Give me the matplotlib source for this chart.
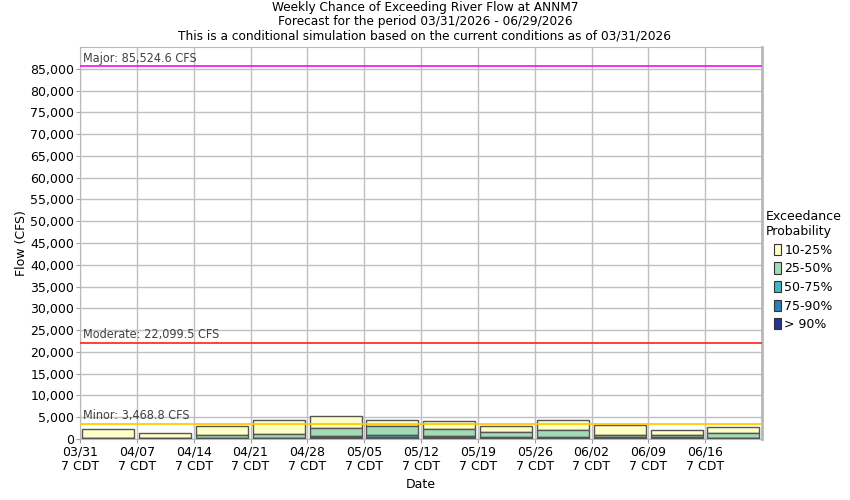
import matplotlib
matplotlib.use('Agg')
import matplotlib.pyplot as plt
from matplotlib.patches import Patch
import matplotlib.dates as mdates
import numpy as np
import pandas as pd

# weekly exceedance values [CFS]
week_start = ['2026-03-31', '2026-04-07', '2026-04-14', '2026-04-21', '2026-04-28', '2026-05-05',
              '2026-05-12', '2026-05-19', '2026-05-26', '2026-06-02', '2026-06-09', '2026-06-16']
q10 = [2290, 1375, 3050, 4350, 5340, 4350, 4120, 2980, 4350, 3280, 2060, 2750]
q25 = [280, 230, 920, 1220, 2520, 2980, 2290, 1600, 2060, 920, 920, 1375]
q50 = [150, 120, 300, 300, 650, 990, 760, 530, 400, 530, 350, 300]
q75 = [80, 60, 180, 200, 400, 460, 460, 300, 250, 300, 200, 150]
q90 = [40, 30, 90, 100, 200, 200, 200, 150, 120, 150, 100, 80]

tick_dates = ['2026-03-31', '2026-04-07', '2026-04-14', '2026-04-21', '2026-04-28', '2026-05-05',
              '2026-05-12', '2026-05-19', '2026-05-26', '2026-06-02', '2026-06-09', '2026-06-16']
tick_labels = ['03/31\n7 CDT', '04/07\n7 CDT', '04/14\n7 CDT', '04/21\n7 CDT', '04/28\n7 CDT', '05/05\n7 CDT',
               '05/12\n7 CDT', '05/19\n7 CDT', '05/26\n7 CDT', '06/02\n7 CDT', '06/09\n7 CDT', '06/16\n7 CDT']

# flood stages
stage_names = ['Major', 'Moderate', 'Minor']
stage_flow = [85524.6, 22099.5, 3468.8]
stage_colors = ['#f020f0', '#ff3030', '#ffcc00']

prob_labels = ['10-25%', '25-50%', '50-75%', '75-90%', '> 90%']
prob_colors = ['#ffffc8', '#a1dab4', '#41b6c4', '#2c7fb8', '#253494']

plt.rcParams['font.family'] = ['DejaVu Sans']

fig = plt.figure(figsize=(8.5, 5), dpi=100)
ax = fig.add_axes([80/850, 61/500, 682/850, 392/500])

x = mdates.date2num(pd.to_datetime(week_start)) + 0.28
tops = [q10, q25, q50, q75, q90]
bottoms = [q25, q50, q75, q90, [0]*len(q90)]
for top, bot, col in zip(tops, bottoms, prob_colors):
    top = np.array(top); bot = np.array(bot)
    ax.bar(x, top - bot, bottom=bot, width=6.4, align='edge', color=col,
           edgecolor='#555555', linewidth=1, zorder=3)

for name, val, col in zip(stage_names, stage_flow, stage_colors):
    ax.axhline(val, color=col, lw=1.3, zorder=4)
    ax.text(mdates.date2num(pd.Timestamp('2026-03-31')) + 0.35, val + 350,
            '{}: {:,.1f} CFS'.format(name, val), fontsize=9, color='#404040',
            fontstretch='condensed', va='bottom', ha='left', zorder=5)

ax.set_xlim(mdates.date2num(pd.Timestamp('2026-03-31')), mdates.date2num(pd.Timestamp('2026-06-23')))
ax.set_ylim(0, 90000)
ax.set_xticks(mdates.date2num(pd.to_datetime(tick_dates)))
ax.set_xticklabels(tick_labels, fontsize=9, linespacing=1.1)
ax.set_yticks(np.arange(0, 90000, 5000))
ax.set_yticklabels(['{:,}'.format(v) for v in range(0, 90000, 5000)], fontsize=9)
ax.grid(True, color='#c0c0c0', lw=1, zorder=0)
ax.set_axisbelow(True)
ax.tick_params(length=3, color='#a0a0a0', pad=1)
ax.tick_params(axis='x', pad=2)
for s in ['left', 'bottom', 'top']:
    ax.spines[s].set_color('#b8b8b8')
ax.spines['right'].set_color('#b8b8b8')
ax.spines['right'].set_linewidth(2)

ax.set_xlabel('Date', fontsize=9, labelpad=4)
ax.set_ylabel('Flow (CFS)', fontsize=9, labelpad=2)

fig.text(0.5, 0.997, 'Weekly Chance of Exceeding River Flow at ANNM7\n'
         'Forecast for the period 03/31/2026 - 06/29/2026\n'
         'This is a conditional simulation based on the current conditions as of 03/31/2026',
         ha='center', va='top', fontsize=9.7, fontstretch='condensed', linespacing=1.1)

handles = [Patch(facecolor=c, edgecolor='#333333', lw=0.8) for c in prob_colors]
fig.legend(handles, prob_labels, title='Exceedance\nProbability', loc='upper left',
           bbox_to_anchor=(0.898, 0.585), frameon=False, fontsize=9, title_fontsize=9,
           handlelength=0.5, handleheight=1.0, handletextpad=0.3, labelspacing=0.45,
           borderaxespad=0, borderpad=0.2)

fig.savefig('out.png', dpi=100)
